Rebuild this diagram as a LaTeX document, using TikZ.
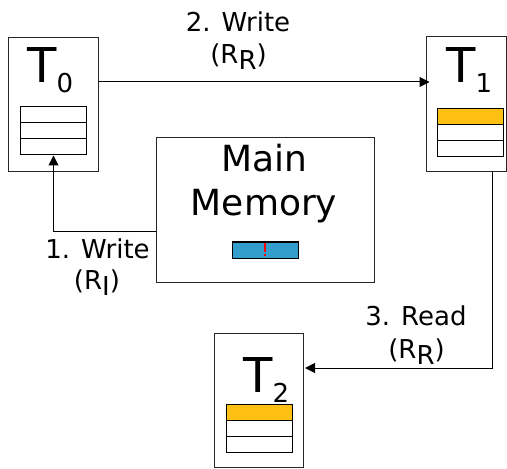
\documentclass[tikz,border=0pt]{standalone}
\usepackage{fontspec}
\setmainfont{DejaVu Sans}
\usetikzlibrary{arrows.meta}
\definecolor{gold}{RGB}{255,192,20}
\definecolor{membar}{RGB}{51,158,204}
\begin{document}
\begin{tikzpicture}[x=1bp,y=-1bp,
  box/.style={draw=black!85, line width=1bp, inner sep=0pt},
  cell/.style={draw=black, line width=1bp, inner sep=0pt, minimum width=66bp, minimum height=16bp},
  arr/.style={draw=black, line width=1bp, -{Triangle[length=10bp,width=10bp]}},
  lbl/.style={inner sep=0pt, anchor=base, font=\fontsize{26bp}{30bp}\selectfont},
  tname/.style={inner sep=0pt, anchor=base west, font=\fontsize{48bp}{50bp}\selectfont},
  memtxt/.style={inner sep=0pt, anchor=base, font=\fontsize{36bp}{40bp}\selectfont}]
\useasboundingbox (0,0) rectangle (507,469);
% boxes
\node[box, minimum width=89bp, minimum height=134bp] (T0) at (53.5,105) {};
\node[box, minimum width=80bp, minimum height=135bp] (T1) at (466,104.5) {};
\node[box, minimum width=89bp, minimum height=134bp] (T2) at (258.5,400) {};
\node[box, minimum width=218bp, minimum height=144bp] (Mem) at (265,210) {};
% titles
\newcommand{\subsc}[1]{\raisebox{-10bp}{\fontsize{26bp}{30bp}\selectfont #1}}
\node[tname] (T0t) at (27,83) {T\subsc{0}};
\node[tname] (T1t) at (446,83) {T\subsc{1}};
\node[tname] (T2t) at (243,392) {T\subsc{2}};
\node[memtxt] (Mt1) at (264,172) {Main};
\node[memtxt] (Mt2) at (264,216) {Memory};
% tables
\node[cell] (T0a) at (53.5,115) {};
\node[cell] (T0b) at (53.5,131) {};
\node[cell] (T0c) at (53.5,147) {};
\node[cell, fill=gold] (T1a) at (470.5,116.5) {};
\node[cell] (T1b) at (470.5,132.5) {};
\node[cell] (T1c) at (470.5,148.5) {};
\node[cell, fill=gold] (T2a) at (259.5,412) {};
\node[cell] (T2b) at (259.5,428) {};
\node[cell] (T2c) at (259.5,444) {};
% memory bar
\node[cell, fill=membar] (bar) at (265,250) {};
\draw[red, line width=1.2bp, dash pattern=on 9bp off 1.5bp] ([yshift=7bp]bar.center) -- ([yshift=-6bp]bar.center);
% connectors
\draw[arr] ([yshift=-21bp]Mem.west) -| (T0c.south);
\draw[arr, shorten >=-4bp] ([yshift=23bp]T0.east) -- ([yshift=23bp]T0.east -| T1.west);
\draw[arr, shorten >=1.5bp] ([xshift=26.5bp]T1.south) |- ([yshift=32bp]T2.east);
% labels
\node[lbl] (l2a) at (238,32) {2. Write};
\node[lbl] (l2b) at (238.5,63.5) {(R\raisebox{-6bp}{R})};
\node[lbl] (l1a) at (97.5,258) {1. Write};
\node[lbl] (l1b) at (97,289) {(R\raisebox{-6bp}{I})};
\node[lbl] (l3a) at (416,325) {3. Read};
\node[lbl] (l3b) at (416.5,358) {(R\raisebox{-6bp}{R})};
\end{tikzpicture}
\end{document}
